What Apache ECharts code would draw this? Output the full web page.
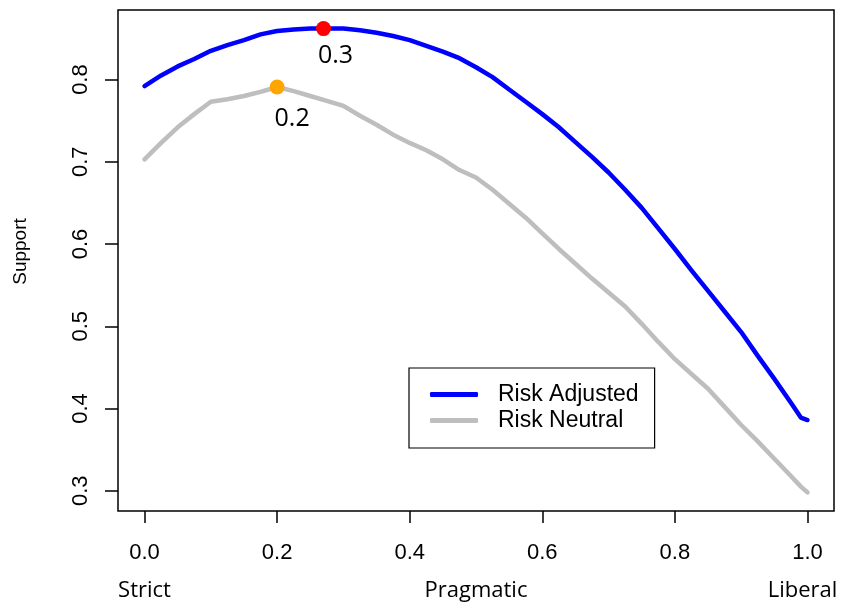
<!DOCTYPE html>
<html>
<head>
<meta charset="utf-8">
<script src="https://cdn.jsdelivr.net/npm/echarts@6/dist/echarts.min.js"></script>
<style>
html,body{margin:0;padding:0;background:#fff;}
#chart{width:842px;height:605px;}
</style>
</head>
<body>
<div id="chart"></div>
<script>
// ---- data ----
var xValues = [0.00,0.025,0.05,0.075,0.10,0.125,0.15,0.175,0.20,0.225,0.25,0.275,0.30,0.325,0.35,0.375,0.40,0.425,0.45,0.475,0.50,0.525,0.55,0.575,0.60,0.625,0.65,0.675,0.70,0.725,0.75,0.775,0.80,0.825,0.85,0.875,0.90,0.925,0.95,0.975,0.99,1.00];
var riskAdjusted = [0.792,0.805,0.816,0.825,0.835,0.842,0.848,0.855,0.859,0.861,0.862,0.862,0.862,0.860,0.857,0.853,0.848,0.841,0.834,0.826,0.815,0.803,0.788,0.773,0.758,0.742,0.724,0.706,0.687,0.666,0.644,0.619,0.594,0.568,0.543,0.518,0.493,0.464,0.436,0.407,0.389,0.386];
var riskNeutral = [0.703,0.723,0.742,0.758,0.773,0.776,0.780,0.785,0.791,0.786,0.780,0.774,0.768,0.756,0.745,0.733,0.723,0.714,0.703,0.690,0.681,0.666,0.649,0.632,0.613,0.594,0.576,0.558,0.541,0.524,0.503,0.481,0.460,0.442,0.424,0.402,0.380,0.360,0.339,0.318,0.305,0.298];
var seriesNames = ['Risk Adjusted','Risk Neutral'];
var peakAdjusted = [0.27, 0.862];
var peakNeutral = [0.20, 0.791];
var peakLabels = ['0.3','0.2'];
var xTicks = [0,0.2,0.4,0.6,0.8,1.0];
var yTicks = [0.3,0.4,0.5,0.6,0.7,0.8];
var sideValues = [0,0.5,1];
var sideLabels = ['Strict','Pragmatic','Liberal'];
var yAxisTitle = 'Support';

function pairs(xs, ys){ return xs.map(function(x,i){ return [x, ys[i]]; }); }

var chart = echarts.init(document.getElementById('chart'), null, {renderer:'canvas'});
var option = {
  backgroundColor: '#fff',
  animation: false,
  grid: {left:118, right:8, top:10, bottom:94, show:true, borderColor:'#000', borderWidth:1.5, backgroundColor:'transparent'},
  legend: {
    data: seriesNames,
    orient: 'vertical',
    left: 409, top: 368,
    padding: [15, 16, 16, 21],
    itemGap: 3,
    itemWidth: 48, itemHeight: 5,
    icon: 'roundRect',
    borderColor: '#000', borderWidth: 1.2, borderRadius: 0,
    backgroundColor: '#fff',
    textStyle: {fontFamily:'Liberation Sans', fontSize:23, color:'#000', lineHeight:22, padding:[0,0,0,15]}
  },
  xAxis: [{
    type:'value', min:-0.04, max:1.04,
    axisLine:{show:false, onZero:false},
    splitLine:{show:false},
    axisTick:{show:true, customValues:xTicks, length:12, lineStyle:{color:'#000', width:1.5}},
    axisLabel:{customValues:xTicks, formatter:function(v){return v.toFixed(1);}, margin:31, fontFamily:'Liberation Sans', fontSize:22, color:'#000'}
  },{
    type:'value', min:-0.04, max:1.04, position:'bottom',
    axisLine:{show:false, onZero:false}, splitLine:{show:false}, axisTick:{show:false},
    axisLabel:{customValues:sideValues, margin:69,
      formatter:function(v){ var i = sideValues.indexOf(Math.round(v*10)/10); return i===2 ? '{r|'+sideLabels[i]+'}' : sideLabels[i]; },
      rich:{r:{fontFamily:'Open Sans', fontSize:22, color:'#000', padding:[0,10,0,0]}},
      fontFamily:'Open Sans', fontSize:22, color:'#000'}
  }],
  yAxis: {
    type:'value', min:0.2754, max:0.8846,
    axisLine:{show:false, onZero:false},
    splitLine:{show:false},
    axisTick:{show:true, customValues:yTicks, length:13, lineStyle:{color:'#000', width:1.5}},
    axisLabel:{customValues:yTicks, rotate:90, formatter:function(v){return v.toFixed(1);}, margin:26, fontFamily:'Liberation Sans', fontSize:22, color:'#000'},
    name: yAxisTitle, nameLocation:'middle', nameRotate:90, nameGap:88,
    nameTextStyle:{fontFamily:'Liberation Sans', fontSize:19, color:'#000', padding:[0,0,0,18]}
  },
  series: [
    {name:seriesNames[0], type:'line', data:pairs(xValues, riskAdjusted), showSymbol:false, symbol:'none', color:'#0000FF', lineStyle:{color:'#0000FF', width:4.5, cap:'round', join:'round'}, z:3},
    {name:seriesNames[1], type:'line', data:pairs(xValues, riskNeutral), showSymbol:false, symbol:'none', color:'#BEBEBE', lineStyle:{color:'#BEBEBE', width:4.5, cap:'round', join:'round'}, z:2},
    {name:'peakA', type:'scatter', data:[peakAdjusted], symbol:'circle', symbolSize:15, itemStyle:{color:'#FF0000', opacity:1}, z:5,
      label:{show:true, formatter:peakLabels[0], position:'inside', offset:[12,27], fontFamily:'Open Sans', fontSize:25, color:'#000', opacity:1}},
    {name:'peakN', type:'scatter', data:[peakNeutral], symbol:'circle', symbolSize:15, itemStyle:{color:'#FFA500', opacity:1}, z:5,
      label:{show:true, formatter:peakLabels[1], position:'inside', offset:[15,32], fontFamily:'Open Sans', fontSize:25, color:'#000', opacity:1}}
  ]
};
chart.setOption(option);
</script>
</body>
</html>
